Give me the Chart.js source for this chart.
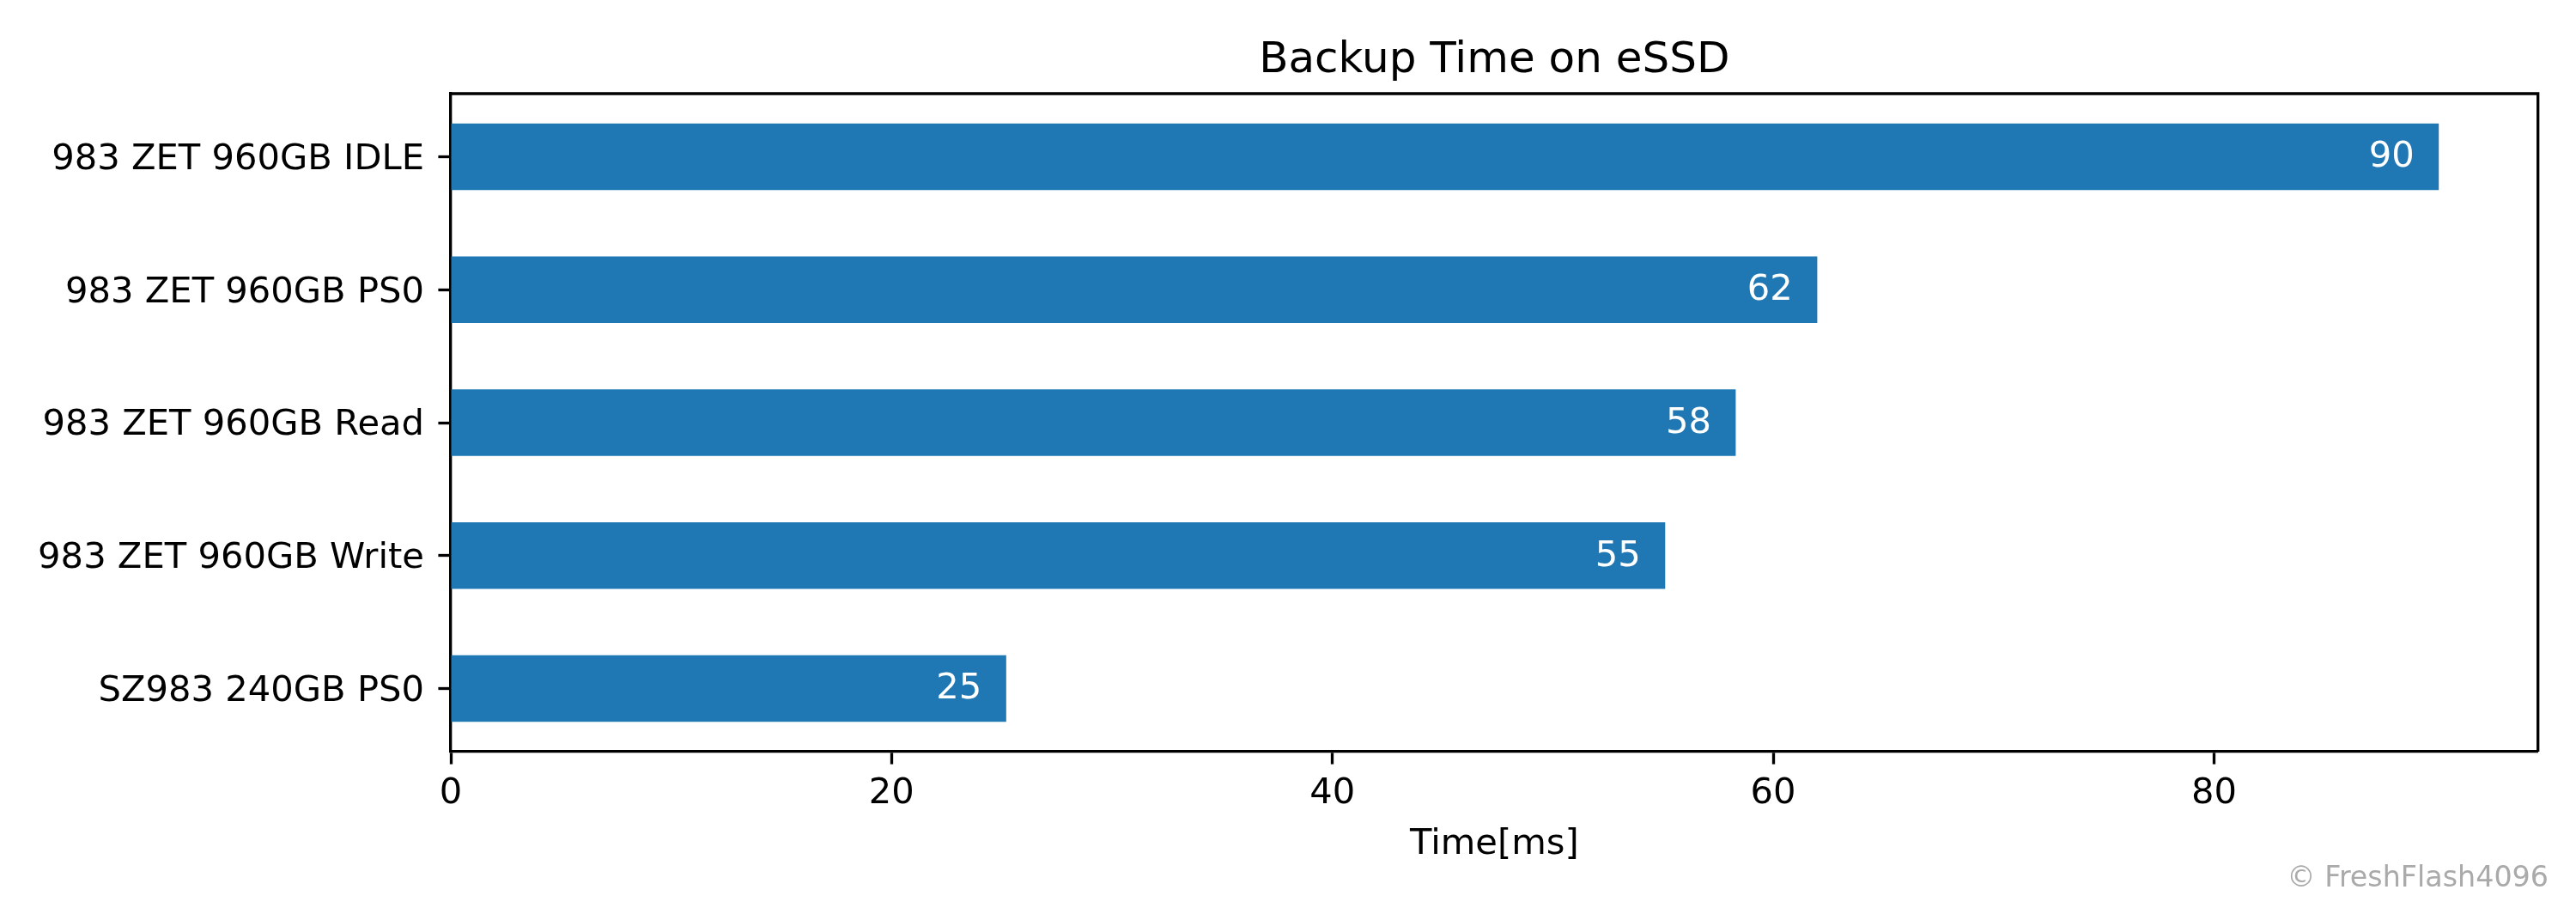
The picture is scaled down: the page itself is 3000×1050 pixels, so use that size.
<!DOCTYPE html>
<html>
<head>
<meta charset="utf-8">
<script src="https://cdn.jsdelivr.net/npm/chart.js@4.4.1/dist/chart.umd.min.js"></script>
<style>
  html, body { margin: 0; padding: 0; background: #ffffff; }
  canvas { display: block; }
</style>
</head>
<body>
<canvas id="c" width="3000" height="1050"></canvas>
<script>
const categories = [
  '983 ZET 960GB IDLE',
  '983 ZET 960GB PS0',
  '983 ZET 960GB Read',
  '983 ZET 960GB Write',
  'SZ983 240GB PS0'
];
const backupTimes = [90.2, 62.0, 58.3, 55.1, 25.2];
const valueLabels = ['90', '62', '58', '55', '25'];
const xTicks = [0, 20, 40, 60, 80];
const xMax = 94.7;
const chartTitle = 'Backup Time on eSSD';
const xTitle = 'Time[ms]';
const watermark = '\u00A9 FreshFlash4096';

const FONT = 'DejaVu Sans';
Chart.defaults.font.family = FONT;
Chart.defaults.color = '#000000';

const LW = 3.33;
const TICK_LEN = 14.6;

const extrasPlugin = {
  id: 'extras',
  afterDatasetsDraw(chart) {
    const ctx = chart.ctx;
    const meta = chart.getDatasetMeta(0);
    ctx.save();
    ctx.fillStyle = '#ffffff';
    ctx.font = '41.67px "' + FONT + '"';
    ctx.textAlign = 'right';
    ctx.textBaseline = 'alphabetic';
    meta.data.forEach((el, i) => {
      ctx.fillText(valueLabels[i], el.x - 28.5, el.y + 11.8);
    });
    ctx.restore();
  },
  afterDraw(chart) {
    const ctx = chart.ctx;
    const a = chart.chartArea;
    ctx.save();
    ctx.strokeStyle = '#000000';
    ctx.lineWidth = LW;
    ctx.lineJoin = 'miter';
    ctx.beginPath();
    ctx.moveTo(a.left, a.top);
    ctx.lineTo(a.right, a.top);
    ctx.lineTo(a.right, a.bottom);
    ctx.stroke();
    ctx.fillStyle = '#aaaaaa';
    ctx.font = '33.33px "' + FONT + '"';
    ctx.textAlign = 'right';
    ctx.textBaseline = 'alphabetic';
    ctx.fillText(watermark, chart.width - 32, 1031.7);
    ctx.restore();
  }
};

new Chart(document.getElementById('c'), {
  type: 'bar',
  data: {
    datasets: [{
      label: 'Backup Time',
      data: backupTimes.map((v, i) => ({ x: v, y: i })),
      backgroundColor: '#1f77b4',
      borderWidth: 0,
      categoryPercentage: 1.0,
      barPercentage: 0.5
    }]
  },
  plugins: [extrasPlugin],
  options: {
    indexAxis: 'y',
    responsive: false,
    animation: false,
    devicePixelRatio: 1,
    layout: { padding: { left: 0, right: 44.3, top: 0, bottom: 0 } },
    plugins: {
      legend: { display: false },
      tooltip: { enabled: false },
      title: {
        display: true,
        text: chartTitle,
        fullSize: false,
        color: '#000000',
        font: { size: 50, weight: 'normal', family: FONT },
        padding: { top: 40.7, bottom: 8.3 }
      }
    },
    scales: {
      x: {
        type: 'linear',
        position: 'bottom',
        min: 0,
        max: xMax,
        z: 1,
        afterBuildTicks(scale) { scale.ticks = xTicks.map(v => ({ value: v })); },
        grid: {
          display: true,
          drawOnChartArea: false,
          drawTicks: true,
          tickLength: TICK_LEN,
          tickWidth: LW,
          tickColor: '#000000'
        },
        border: { display: true, color: '#000000', width: LW },
        ticks: {
          font: { size: 41.67, family: FONT },
          color: '#000000',
          padding: 10,
          maxRotation: 0,
          autoSkip: false
        },
        title: {
          display: true,
          text: xTitle,
          color: '#000000',
          font: { size: 41.67, family: FONT },
          padding: { top: 0, bottom: 41.7 }
        },
        afterFit(scale) { scale.height = 175; }
      },
      y: {
        type: 'linear',
        reverse: true,
        min: -0.475,
        max: 4.475,
        offset: false,
        z: 1,
        afterBuildTicks(scale) { scale.ticks = categories.map((_, i) => ({ value: i })); },
        grid: {
          display: true,
          offset: false,
          drawOnChartArea: false,
          drawTicks: true,
          tickLength: TICK_LEN,
          tickWidth: LW,
          tickColor: '#000000'
        },
        border: { display: true, color: '#000000', width: LW },
        ticks: {
          callback: (v) => categories[v],
          font: { size: 41.67, family: FONT },
          color: '#000000',
          padding: 16.4,
          labelOffset: 3.5,
          autoSkip: false
        },
        afterFit(scale) { scale.width = 525; }
      }
    }
  }
});
</script>
</body>
</html>
